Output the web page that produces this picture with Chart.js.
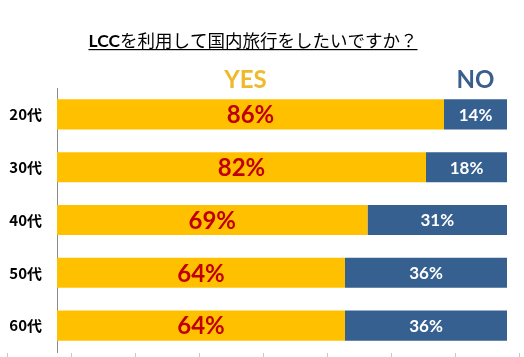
<!DOCTYPE html>
<html><head><meta charset="utf-8">
<script src="https://cdn.jsdelivr.net/npm/chart.js@4"></script>
<style>html,body{margin:0;padding:0;background:#fff}#wrap{width:524px;height:357px}</style>
</head><body><div id="wrap"><canvas id="c" width="524" height="357"></canvas></div>
<script>
const categories = ['20代', '30代', '40代', '50代', '60代'];
const yesValues = [86, 82, 69, 64, 64];
const noValues = [14, 18, 31, 36, 36];
const seriesNames = ['YES', 'NO'];
const titleBold = 'LCC';
const titleRest = 'を利用して国内旅行をしたいですか？';

const overlay = {
  id: 'overlay',
  afterDatasetsDraw(chart) {
    const ctx = chart.ctx;
    ctx.save();
    // title
    ctx.textBaseline = 'alphabetic';
    ctx.textAlign = 'left';
    ctx.fillStyle = '#000';
    ctx.font = 'bold 17.5px Lato';
    const w1 = ctx.measureText(titleBold).width;
    ctx.font = '17.5px "Noto Sans CJK JP"';
    const w2 = ctx.measureText(titleRest).width;
    const total = w1 + w2;
    const x0 = 253 - total / 2, ty = 47;
    ctx.font = 'bold 17.5px Lato';
    ctx.fillText(titleBold, x0, ty);
    ctx.font = '17.5px "Noto Sans CJK JP"';
    ctx.fillText(titleRest, x0 + w1, ty);
    ctx.fillRect(x0, ty + 2, total, 1.2);
    // series headers + labels
    const colors = ['#C00000', '#FFFFFF'];
    const headColors = ['#F0B92A', '#3A5F8C'];
    const fonts = ['bold 24px Lato', 'bold 17px Lato'];
    const headShift = [-5, 0];
    chart.data.datasets.forEach((ds, di) => {
      const meta = chart.getDatasetMeta(di);
      meta.data.forEach((bar, i) => {
        const cx = (bar.x + bar.base) / 2;
        ctx.font = fonts[di];
        ctx.fillStyle = colors[di];
        ctx.textAlign = 'center';
        ctx.textBaseline = 'middle';
        ctx.fillText(ds.data[i] + '%', cx, bar.y + 1);
        if (i === 0) {
          ctx.font = 'bold 24px Lato';
          ctx.fillStyle = headColors[di];
          ctx.fillText(ds.label, cx + headShift[di], bar.y - 34);
        }
      });
    });
    // faint tick marks along the bottom edge
    ctx.strokeStyle = '#c8c8c8';
    ctx.lineWidth = 1;
    for (let k = 0; k < 9; k++) {
      const x = 7.5 + 64 * k;
      ctx.beginPath(); ctx.moveTo(x, 353); ctx.lineTo(x, 357); ctx.stroke();
    }
    ctx.restore();
  }
};

new Chart(document.getElementById('c'), {
  type: 'bar',
  data: {
    labels: categories,
    datasets: [
      { label: seriesNames[0], data: yesValues, backgroundColor: '#FFC000', barPercentage: 1, categoryPercentage: 0.57 },
      { label: seriesNames[1], data: noValues, backgroundColor: '#36608F', barPercentage: 1, categoryPercentage: 0.57 }
    ]
  },
  options: {
    indexAxis: 'y',
    responsive: false,
    animation: false,
    layout: { padding: { top: 88, right: 17, bottom: 5, left: 0 } },
    plugins: { legend: { display: false }, tooltip: { enabled: false }, title: { display: false } },
    scales: {
      x: { stacked: true, min: 0, max: 100, display: false },
      y: {
        stacked: true,
        grid: { display: false, drawTicks: false },
        border: { display: true, color: '#8a8a8a', width: 1 },
        ticks: { color: '#000', font: { family: '"Noto Sans CJK JP"', weight: 'bold', size: 15 }, padding: 15 },
        afterFit(scale) { scale.width = 57; scale.paddingTop = 0; scale.paddingBottom = 0; }
      }
    }
  },
  plugins: [overlay]
});
</script></body></html>
